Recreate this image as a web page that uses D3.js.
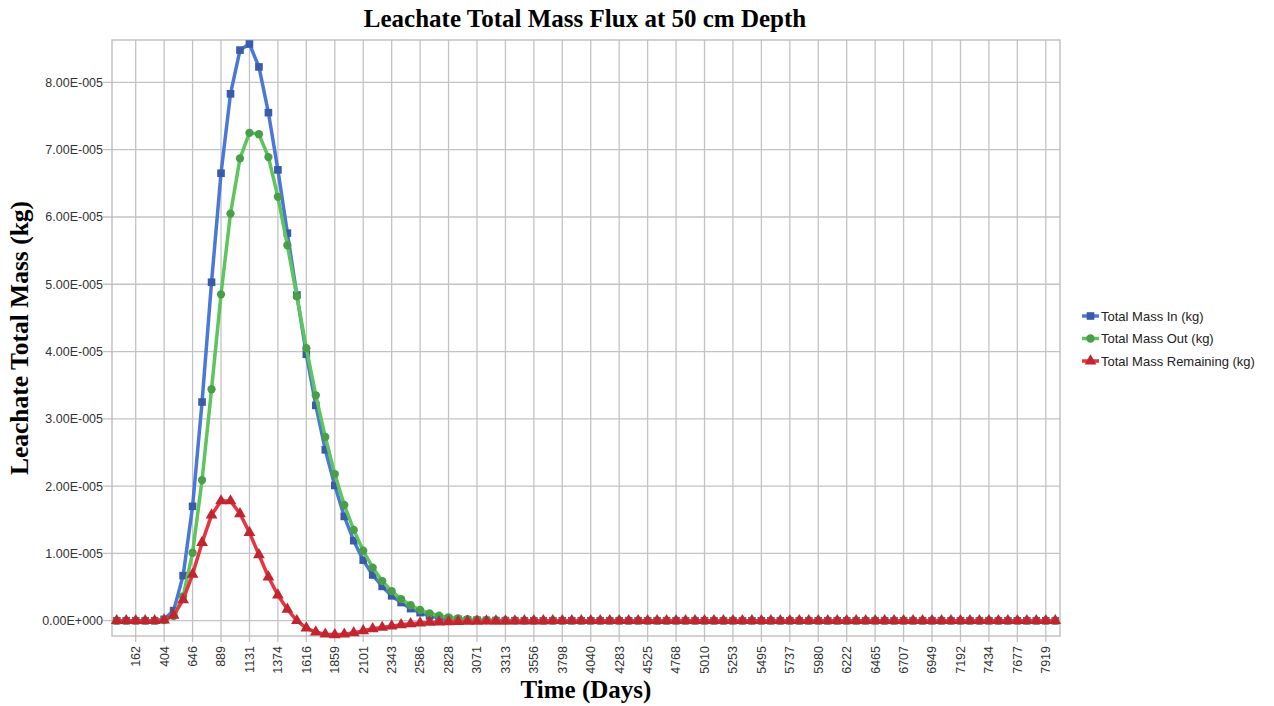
<!DOCTYPE html>
<html>
<head>
<meta charset="utf-8">
<script src="https://cdn.jsdelivr.net/npm/d3@7"></script>
<style>
  body { margin: 0; background: #fff; }
  svg { display: block; }
</style>
</head>
<body>
<svg id="chart"></svg>
<script>
// time of each sample (days), 100 samples from 0 to 8000
var days = [0, 81, 162, 242, 323, 404, 485, 566, 646, 727, 808, 889, 970, 1051, 1131, 1212, 1293, 1374, 1455, 1535,
  1616, 1697, 1778, 1859, 1939, 2020, 2101, 2182, 2263, 2343, 2424, 2505, 2586, 2667, 2747, 2828, 2909, 2990, 3071, 3152,
  3232, 3313, 3394, 3475, 3556, 3636, 3717, 3798, 3879, 3960, 4040, 4121, 4202, 4283, 4364, 4444, 4525, 4606, 4687, 4768,
  4848, 4929, 5010, 5091, 5172, 5253, 5333, 5414, 5495, 5576, 5657, 5737, 5818, 5899, 5980, 6061, 6141, 6222, 6303, 6384,
  6465, 6545, 6626, 6707, 6788, 6869, 6949, 7030, 7111, 7192, 7273, 7354, 7434, 7515, 7596, 7677, 7758, 7838, 7919, 8000];

// labelled ticks on the time axis
var tickDays = [162, 404, 646, 889, 1131, 1374, 1616, 1859, 2101, 2343, 2586, 2828, 3071, 3313, 3556, 3798, 4040,
  4283, 4525, 4768, 5010, 5253, 5495, 5737, 5980, 6222, 6465, 6707, 6949, 7192, 7434, 7677, 7919];

// series values, in units of 1E-005 kg
var massIn = [0, 0, 0, 0, 0, 0.02, 0.15, 0.67, 1.70, 3.25, 5.03, 6.65, 7.83, 8.48, 8.57, 8.23, 7.55, 6.70, 5.76, 4.84,
  3.96, 3.20, 2.54, 2.01, 1.55, 1.19, 0.90, 0.68, 0.51, 0.37, 0.27, 0.18, 0.12, 0.07, 0.045, 0.03, 0.02, 0.012, 0.008, 0.005,
  0.003, 0.002, 0.001, 0, 0, 0, 0, 0, 0, 0, 0, 0, 0, 0, 0, 0, 0, 0, 0, 0,
  0, 0, 0, 0, 0, 0, 0, 0, 0, 0, 0, 0, 0, 0, 0, 0, 0, 0, 0, 0,
  0, 0, 0, 0, 0, 0, 0, 0, 0, 0, 0, 0, 0, 0, 0, 0, 0, 0, 0, 0];

var massOut = [0, 0, 0, 0, 0, 0.01, 0.07, 0.36, 1.01, 2.09, 3.44, 4.85, 6.05, 6.87, 7.25, 7.23, 6.89, 6.30, 5.58, 4.82,
  4.05, 3.35, 2.73, 2.18, 1.72, 1.35, 1.04, 0.79, 0.59, 0.44, 0.32, 0.23, 0.16, 0.11, 0.075, 0.05, 0.035, 0.022, 0.015, 0.01,
  0.006, 0.004, 0.002, 0.001, 0, 0, 0, 0, 0, 0, 0, 0, 0, 0, 0, 0, 0, 0, 0, 0,
  0, 0, 0, 0, 0, 0, 0, 0, 0, 0, 0, 0, 0, 0, 0, 0, 0, 0, 0, 0,
  0, 0, 0, 0, 0, 0, 0, 0, 0, 0, 0, 0, 0, 0, 0, 0, 0, 0, 0, 0];

var massRemaining = [0, 0, 0, 0, 0, 0.01, 0.08, 0.31, 0.69, 1.16, 1.57, 1.78, 1.78, 1.59, 1.31, 0.98, 0.65, 0.38, 0.17, 0,
  -0.11, -0.17, -0.20, -0.21, -0.20, -0.18, -0.15, -0.12, -0.10, -0.08, -0.06, -0.045, -0.035, -0.025, -0.02, -0.015, -0.012, -0.01, -0.008, -0.006,
  -0.005, -0.004, -0.003, -0.002, -0.002, -0.001, 0, 0, 0, 0, 0, 0, 0, 0, 0, 0, 0, 0, 0, 0,
  0, 0, 0, 0, 0, 0, 0, 0, 0, 0, 0, 0, 0, 0, 0, 0, 0, 0, 0, 0,
  0, 0, 0, 0, 0, 0, 0, 0, 0, 0, 0, 0, 0, 0, 0, 0, 0, 0, 0, 0];

var yTicks = [0, 1, 2, 3, 4, 5, 6, 7, 8];

var seriesNames = ["Total Mass In (kg)", "Total Mass Out (kg)", "Total Mass Remaining (kg)"];

var Chart = (function(){
    var width = 1274;
    var height = 706;
    var left = 112, right = 1060, top = 40, bottom = 636;
    var svg, x, y;

    var styles = [
        {line: "#4b78d6", marker: "#3a5ba8", shape: d3.symbolSquare, size: 58},
        {line: "#5cc65c", marker: "#4a9e4a", shape: d3.symbolCircle, size: 54},
        {line: "#e63440", marker: "#c0262f", shape: d3.symbolTriangle, size: 60}
    ];

    function sciLabel(v){
        var s = d3.format(".2e")(v * 1e-5).split("e");
        var exp = +s[1];
        return s[0] + "E" + (exp < 0 ? "-" : "+") + d3.format("03d")(Math.abs(exp));
    }

    function setupScales(){
        x = d3.scaleBand()
            .domain(days)
            .range([left, right])
            .padding(0);
        y = d3.scaleLinear()
            .domain([-0.227, 8.63])
            .range([bottom, top]);
    }

    function cx(d){ return x(d) + x.bandwidth() / 2; }

    function drawGrid(){
        var grid = svg.append("g").attr("stroke", "#c3c3c3").attr("stroke-width", 1.3);

        grid.selectAll("line.h")
            .data(yTicks)
            .enter()
            .append("line")
                .attr("x1", left - 9)
                .attr("x2", right)
                .attr("y1", d => y(d))
                .attr("y2", d => y(d));

        grid.selectAll("line.v")
            .data(tickDays)
            .enter()
            .append("line")
                .attr("x1", d => cx(d))
                .attr("x2", d => cx(d))
                .attr("y1", top)
                .attr("y2", bottom + 6);

        svg.append("rect")
            .attr("x", left)
            .attr("y", top)
            .attr("width", right - left)
            .attr("height", bottom - top)
            .attr("fill", "none")
            .attr("stroke", "#b8b8b8")
            .attr("stroke-width", 1.3);
    }

    function drawAxes(){
        var yAxis = d3.axisLeft(y)
            .tickValues(yTicks)
            .tickSize(0)
            .tickPadding(left - 103)
            .tickFormat(sciLabel);

        var gy = svg.append("g")
            .attr("transform", "translate(" + left + ",0)")
            .call(yAxis);
        gy.select(".domain").remove();
        gy.selectAll("text")
            .attr("font-family", "'Liberation Sans', Arial, sans-serif")
            .attr("font-size", 12.5)
            .attr("fill", "#333");

        svg.append("g")
            .selectAll("text")
            .data(tickDays)
            .enter()
            .append("text")
                .attr("transform", d => "translate(" + cx(d) + "," + (bottom + 10) + ") rotate(-90)")
                .attr("dy", "0.35em")
                .attr("text-anchor", "end")
                .attr("font-family", "'Liberation Sans', Arial, sans-serif")
                .attr("font-size", 12.5)
                .attr("fill", "#333")
                .text(d => d);

        svg.append("text")
            .attr("x", 585)
            .attr("y", 27)
            .attr("text-anchor", "middle")
            .attr("font-family", "'Liberation Serif', 'Times New Roman', serif")
            .attr("font-weight", "bold")
            .attr("font-size", 25)
            .text("Leachate Total Mass Flux at 50 cm Depth");

        svg.append("text")
            .attr("x", 586)
            .attr("y", 698)
            .attr("text-anchor", "middle")
            .attr("font-family", "'Liberation Serif', 'Times New Roman', serif")
            .attr("font-weight", "bold")
            .attr("font-size", 25)
            .text("Time (Days)");

        svg.append("text")
            .attr("transform", "translate(28,338) rotate(-90)")
            .attr("text-anchor", "middle")
            .attr("font-family", "'Liberation Serif', 'Times New Roman', serif")
            .attr("font-weight", "bold")
            .attr("font-size", 25.5)
            .text("Leachate Total Mass (kg)");
    }

    function drawSeries(){
        var all = [massIn, massOut, massRemaining];
        var line = d3.line()
            .x((d, i) => cx(days[i]))
            .y(d => y(d));

        all.forEach(function(values, k){
            var st = styles[k];
            var g = svg.append("g");
            g.append("path")
                .datum(values)
                .attr("fill", "none")
                .attr("stroke", st.line)
                .attr("stroke-width", 3.5)
                .attr("stroke-linejoin", "round")
                .attr("d", line);
            g.selectAll("path.m")
                .data(values)
                .enter()
                .append("path")
                    .attr("class", "m")
                    .attr("d", d3.symbol().type(st.shape).size(st.size))
                    .attr("transform", (d, i) => "translate(" + cx(days[i]) + "," + y(d) + ")")
                    .attr("fill", st.marker);
        });
    }

    function drawLegend(){
        var lg = svg.append("g").attr("transform", "translate(1082,316)");
        var rows = lg.selectAll("g")
            .data(seriesNames)
            .enter()
            .append("g")
                .attr("transform", (d, i) => "translate(0," + (i * 22.5) + ")");
        rows.append("line")
            .attr("x1", 0).attr("x2", 17)
            .attr("stroke", (d, i) => styles[i].line)
            .attr("stroke-width", 3.5);
        rows.append("path")
            .attr("d", (d, i) => d3.symbol().type(styles[i].shape).size(styles[i].size)())
            .attr("transform", "translate(8.5,0)")
            .attr("fill", (d, i) => styles[i].marker);
        rows.append("text")
            .attr("x", 19)
            .attr("dy", "0.35em")
            .attr("font-family", "'Liberation Sans', Arial, sans-serif")
            .attr("font-size", 13)
            .attr("fill", "#222")
            .text(d => d);
    }

    return {
        init: function(){
            svg = d3.select("#chart")
                .attr("width", width)
                .attr("height", height);
            setupScales();
            drawGrid();
            drawAxes();
            drawSeries();
            drawLegend();
        }
    };
})();

Chart.init();
</script>
</body>
</html>
